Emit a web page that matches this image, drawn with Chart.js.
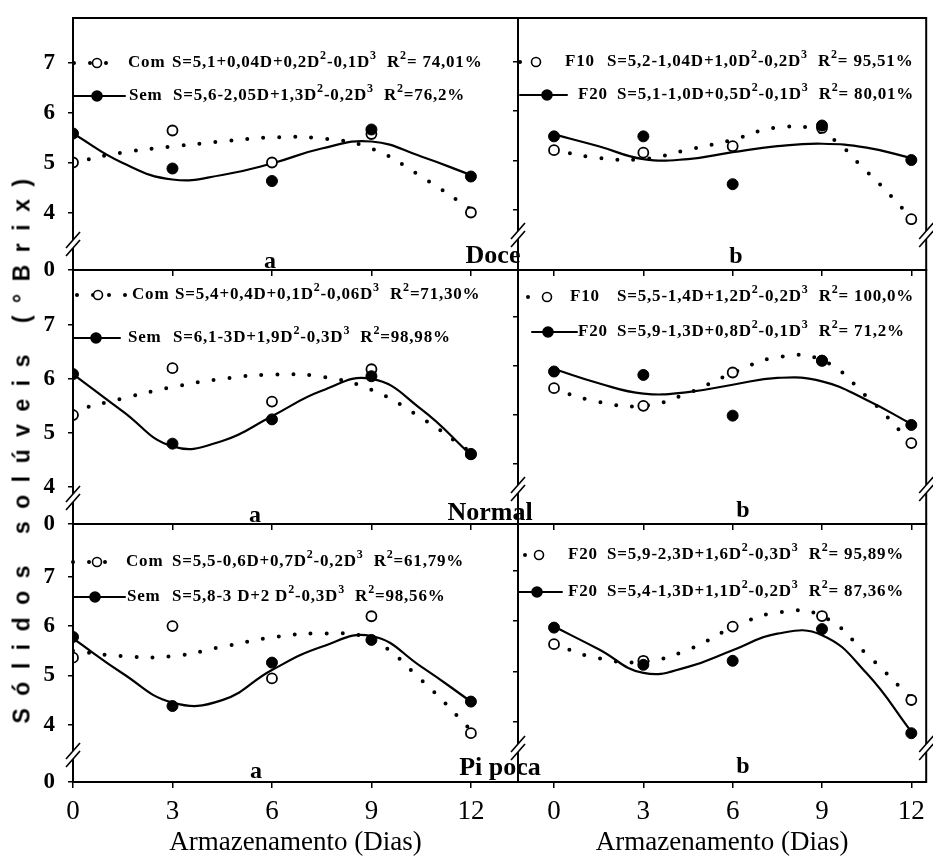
<!DOCTYPE html>
<html>
<head>
<meta charset="utf-8">
<script src="https://cdn.jsdelivr.net/npm/chart.js@4.4.1/dist/chart.umd.min.js"></script>
<style>
  body { margin: 0; background: #fff; }
  #wrap { position: relative; width: 933px; height: 856px; overflow: hidden; background: #fff; }
  #wrap canvas { position: absolute; left: 0; top: 0; }
  #ytitle {
    position: absolute; left: 22px; top: 445px;
    transform: translate(-50%, -50%) rotate(-90deg);
    font: bold 23px "Liberation Sans", Arial, sans-serif;
    letter-spacing: 12.5px; white-space: nowrap; color: #000;
  }
</style>
</head>
<body>
<div id="wrap">
  <canvas id="c0" width="933" height="856"></canvas>
  <canvas id="c2" width="933" height="856"></canvas>
  <canvas id="c4" width="933" height="856"></canvas>
  <canvas id="c1" width="933" height="856"></canvas>
  <canvas id="c3" width="933" height="856"></canvas>
  <canvas id="c5" width="933" height="856"></canvas>
  <div id="ytitle">Sólidos solúveis (°Brix)</div>
</div>
<script>
  // storage days of the measured points and of the read-off fitted curves
  var days = [0, 3, 6, 9, 12];
  var fitDays = [0, 1.5, 3, 4.5, 6, 7.5, 9, 10.5, 12];
  var xTicks = [0, 3, 6, 9, 12];
  var yTicks = [4, 5, 6, 7];

  // Doce a  (Com = open / dotted, Sem = filled / solid)
  var doceComPts = [5.01, 5.65, 5.01, 5.58, 4.01];
  var doceSemPts = [5.59, 4.89, 4.64, 5.67, 4.73];
  var doceComFit = [5.01, 5.21, 5.33, 5.43, 5.51, 5.49, 5.29, 4.73, 4.07];
  var doceSemFit = [5.59, 5.0, 4.67, 4.76, 4.99, 5.29, 5.43, 5.13, 4.76];
  // Doce b  (F10 = open / dotted, F20 = filled / solid)
  var doceF10Pts = [5.21, 5.16, 5.29, 5.66, 3.81];
  var doceF20Pts = [5.49, 5.49, 4.52, 5.71, 5.01];
  var doceF10Fit = [5.21, 5.05, 5.03, 5.22, 5.42, 5.67, 5.56, 4.78, 3.84];
  var doceF20Fit = [5.53, 5.29, 5.03, 5.03, 5.17, 5.29, 5.34, 5.26, 5.05];

  // Normal a
  var normalComPts = [5.33, 6.2, 5.58, 6.18, 4.6];
  var normalSemPts = [6.09, 4.8, 5.25, 6.05, 4.61];
  var normalComFit = [5.41, 5.64, 5.85, 6.0, 6.08, 6.04, 5.8, 5.28, 4.64];
  var normalSemFit = [6.09, 5.4, 4.75, 4.85, 5.31, 5.78, 6.0, 5.44, 4.59];
  // Normal b
  var normalF10Pts = [5.55, 5.19, 5.87, 6.11, 4.43];
  var normalF20Pts = [5.89, 5.82, 4.99, 6.11, 4.8];
  var normalF10Fit = [5.52, 5.27, 5.19, 5.45, 5.86, 6.18, 6.12, 5.38, 4.43];
  var normalF20Fit = [5.94, 5.65, 5.44, 5.47, 5.62, 5.76, 5.69, 5.31, 4.82];

  // Pipoca a
  var pipocaComPts = [5.36, 6.0, 4.94, 6.2, 3.83];
  var pipocaSemPts = [5.78, 4.38, 5.26, 5.72, 4.47];
  var pipocaComFit = [5.5, 5.39, 5.39, 5.58, 5.77, 5.85, 5.72, 4.91, 3.89];
  var pipocaSemFit = [5.75, 5.04, 4.45, 4.5, 5.11, 5.58, 5.8, 5.18, 4.47];
  // Pipoca b
  var pipocaOpenPts = [5.54, 5.21, 5.89, 6.1, 4.43];
  var pipocaFilledPts = [5.87, 5.13, 5.21, 5.84, 3.77];
  var pipocaDotFit = [5.53, 5.26, 5.19, 5.43, 5.87, 6.17, 6.1, 5.34, 4.46];
  var pipocaSolidFit = [5.89, 5.44, 4.97, 5.09, 5.42, 5.75, 5.72, 4.96, 3.8];

  // legend texts (^n = superscript)
  var doceLegA = [['Com', 'S=5,1+0,04D+0,2D^2-0,1D^3  R^2= 74,01%'], ['Sem', 'S=5,6-2,05D+1,3D^2-0,2D^3  R^2=76,2%']];
  var doceLegB = [['F10', 'S=5,2-1,04D+1,0D^2-0,2D^3  R^2= 95,51%'], ['F20', 'S=5,1-1,0D+0,5D^2-0,1D^3  R^2= 80,01%']];
  var normalLegA = [['Com', 'S=5,4+0,4D+0,1D^2-0,06D^3  R^2=71,30%'], ['Sem', 'S=6,1-3D+1,9D^2-0,3D^3  R^2=98,98%']];
  var normalLegB = [['F10', 'S=5,5-1,4D+1,2D^2-0,2D^3  R^2= 100,0%'], ['F20', 'S=5,9-1,3D+0,8D^2-0,1D^3  R^2= 71,2%']];
  var pipocaLegA = [['Com', 'S=5,5-0,6D+0,7D^2-0,2D^3  R^2=61,79%'], ['Sem', 'S=5,8-3 D+2 D^2-0,3D^3  R^2=98,56%']];
  var pipocaLegB = [['F20', 'S=5,9-2,3D+1,6D^2-0,3D^3  R^2= 95,89%'], ['F20', 'S=5,4-1,3D+1,1D^2-0,2D^3  R^2= 87,36%']];

  function xy(xs, ys) {
    return xs.map(function (x, i) { return { x: x, y: ys[i] }; });
  }

  function drawRich(ctx, str, x, y, size) {
    var parts = str.split(/\^(\d)/);
    for (var i = 0; i < parts.length; i++) {
      var sup = i % 2 === 1;
      ctx.font = 'bold ' + (sup ? Math.round(size * 0.72) : size) + 'px "Liberation Serif"';
      ctx.fillText(parts[i], x, sup ? y - size * 0.42 : y);
      x += ctx.measureText(parts[i]).width;
    }
  }

  // frame, axis breaks, legend and panel labels
  var deco = {
    id: 'deco',
    afterDraw: function (chart, args, o) {
      var ctx = chart.ctx, a = chart.chartArea;
      ctx.save();
      ctx.strokeStyle = '#000';
      ctx.lineWidth = 2;
      ctx.strokeRect(a.left, a.top, a.right - a.left, a.bottom - a.top);

      o.breaks.forEach(function (side) {
        var x = side === 'left' ? a.left : a.right, y = a.bottom - o.breakAt;
        ctx.fillStyle = '#fff';
        ctx.fillRect(x - 3, y - 4, 6, 8);
        ctx.lineWidth = 1.6;
        [-4, 4].forEach(function (d) {
          ctx.beginPath();
          ctx.moveTo(x - 7, y + d + 8);
          ctx.lineTo(x + 7, y + d - 8);
          ctx.stroke();
        });
      });

      o.legend.forEach(function (row, i) {
        var p = o.legendPos[i], y = a.top + p[0];
        ctx.strokeStyle = '#000';
        ctx.lineCap = 'round';
        if (i === 0) { ctx.lineWidth = 4; ctx.setLineDash([0, 16]); }
        else { ctx.lineWidth = 2; ctx.setLineDash([]); }
        ctx.beginPath();
        ctx.moveTo(a.left + p[1], y);
        ctx.lineTo(a.left + p[2], y);
        ctx.stroke();
        ctx.setLineDash([]);
        ctx.beginPath();
        ctx.arc(a.left + p[3], y, i === 0 ? 4.5 : 5, 0, 2 * Math.PI);
        ctx.fillStyle = i === 0 ? '#fff' : '#000';
        ctx.fill();
        ctx.lineWidth = 1.6;
        ctx.stroke();
        ctx.fillStyle = '#000';
        ctx.textBaseline = 'middle';
        ctx.textAlign = 'left';
        ctx.letterSpacing = '0.8px';
        drawRich(ctx, row[0], a.left + p[4], y, 17);
        drawRich(ctx, row[1], a.left + p[4] + p[5], y, 17);
        ctx.letterSpacing = '0px';
      });

      ctx.fillStyle = '#000';
      ctx.textBaseline = 'alphabetic';
      ctx.textAlign = 'center';
      o.labels.forEach(function (l) {
        ctx.font = 'bold ' + (l[0].length > 1 ? 26 : 24) + 'px "Liberation Serif"';
        ctx.fillText(l[0], l[1], l[2]);
      });
      ctx.restore();
    }
  };

  var panels = [
    { id: 'c0', box: [73, 18, 518, 270], xr: [0, 13.42], yr: [2.86, 7.9], yLabels: true, bottom: false,
      open: doceComPts, filled: doceSemPts, dotFit: doceComFit, solidFit: doceSemFit, legend: doceLegA,
      legendPos: [[45, 1, 37, 24, 55, 44], [78, 0, 52, 24, 56, 44]], breaks: ['left'], breakAt: 26,
      labels: [['a', 270, 268], ['Doce', 493, 263]] },
    { id: 'c1', box: [518, 18, 927, 270], xr: [-1.21, 12.5], yr: [2.78, 7.89], yLabels: false, bottom: false,
      open: doceF10Pts, filled: doceF20Pts, dotFit: doceF10Fit, solidFit: doceF20Fit, legend: doceLegB,
      legendPos: [[44, 2, 32, 18, 47, 42], [77, 2, 49, 29, 60, 39]], breaks: ['left', 'right'], breakAt: 35,
      labels: [['b', 736, 263]] },
    { id: 'c2', box: [73, 270, 518, 524], xr: [0, 13.42], yr: [3.31, 8.02], yLabels: true, bottom: false,
      open: normalComPts, filled: normalSemPts, dotFit: normalComFit, solidFit: normalSemFit, legend: normalLegA,
      legendPos: [[25, 4, 54, 25, 59, 43], [68, 0, 47, 23, 55, 45]], breaks: ['left'], breakAt: 26,
      labels: [['a', 255, 522], ['Normal', 490, 520]] },
    { id: 'c3', box: [518, 270, 927, 524], xr: [-1.21, 12.5], yr: [2.78, 7.96], yLabels: false, bottom: false,
      open: normalF10Pts, filled: normalF20Pts, dotFit: normalF10Fit, solidFit: normalF20Fit, legend: normalLegB,
      legendPos: [[27, 10, 39, 29, 52, 47], [62, 14, 59, 30, 60, 39]], breaks: ['left', 'right'], breakAt: 35,
      labels: [['b', 743, 517]] },
    { id: 'c4', box: [73, 524, 518, 782], xr: [0, 13.42], yr: [2.84, 8.07], yLabels: true, bottom: true,
      open: pipocaComPts, filled: pipocaSemPts, dotFit: pipocaComFit, solidFit: pipocaSemFit, legend: pipocaLegA,
      legendPos: [[38, 0, 44, 24, 53, 46], [73, 0, 52, 22, 54, 45]], breaks: ['left'], breakAt: 27,
      labels: [['a', 256, 778], ['Pi poca', 500, 775]] },
    { id: 'c5', box: [518, 524, 927, 782], xr: [-1.21, 12.5], yr: [2.8, 7.93], yLabels: false, bottom: true,
      open: pipocaOpenPts, filled: pipocaFilledPts, dotFit: pipocaDotFit, solidFit: pipocaSolidFit, legend: pipocaLegB,
      legendPos: [[31, 7, 39, 21, 50, 39], [68, 0, 44, 19, 50, 39]], breaks: ['left', 'right'], breakAt: 34,
      labels: [['b', 743, 773]] }
  ];

  panels.forEach(function (p) {
    var xH = p.bottom ? 74 : 6, yW = p.yLabels ? 60 : 6;
    new Chart(document.getElementById(p.id), {
      type: 'scatter',
      data: {
        datasets: [
          { data: xy(days, p.filled), pointRadius: 5.5, pointBackgroundColor: '#000', pointBorderColor: '#000', pointBorderWidth: 1 },
          { data: xy(days, p.open), pointRadius: 5, pointBackgroundColor: '#fff', pointBorderColor: '#000', pointBorderWidth: 1.8 },
          { data: xy(fitDays, p.solidFit), showLine: true, pointRadius: 0, borderColor: '#000', borderWidth: 2.2,
            tension: 0.45 },
          { data: xy(fitDays, p.dotFit), showLine: true, pointRadius: 0, borderColor: '#000', borderWidth: 4,
            borderDash: [0, 16], borderCapStyle: 'round', tension: 0.45 }
        ]
      },
      options: {
        responsive: false,
        animation: false,
        events: [],
        layout: { padding: { left: p.box[0] - yW, top: p.box[1], right: 933 - p.box[2], bottom: 856 - p.box[3] - xH } },
        plugins: {
          legend: { display: false },
          tooltip: { enabled: false },
          deco: { breaks: p.breaks, breakAt: p.breakAt, legend: p.legend, legendPos: p.legendPos, labels: p.labels }
        },
        scales: {
          x: {
            type: 'linear', min: p.xr[0], max: p.xr[1],
            afterBuildTicks: function (s) { s.ticks = xTicks.map(function (v) { return { value: v }; }); },
            afterFit: function (s) { s.height = xH; s.paddingLeft = 0; s.paddingRight = 0; },
            border: { display: false },
            grid: { drawOnChartArea: false, drawTicks: true, tickLength: 6, color: '#000', lineWidth: 1.5 },
            ticks: { display: p.bottom, autoSkip: false, maxRotation: 0, padding: 8, color: '#000',
              font: { family: 'Liberation Serif', size: 27 } },
            title: { display: p.bottom, text: 'Armazenamento (Dias)', color: '#000', padding: { top: 0, bottom: 0 },
              font: { family: 'Liberation Serif', size: 27, lineHeight: 1 } }
          },
          y: {
            min: p.yr[0], max: p.yr[1],
            afterBuildTicks: function (s) {
              var t = p.yLabels ? [p.yr[0]].concat(yTicks) : yTicks;
              s.ticks = t.map(function (v) { return { value: v }; });
            },
            afterFit: function (s) { s.width = yW; s.paddingTop = 0; s.paddingBottom = 0; },
            border: { display: false },
            grid: { drawOnChartArea: false, drawTicks: true, tickLength: 5, color: '#000', lineWidth: 1.5 },
            ticks: { display: p.yLabels, autoSkip: false, padding: 13, color: '#000',
              font: { family: 'Liberation Serif', size: 23, weight: 'bold' },
              callback: function (v) { return v < 3.9 ? '0' : v; } }
          }
        }
      },
      plugins: [deco]
    });
  });
</script>
</body>
</html>
